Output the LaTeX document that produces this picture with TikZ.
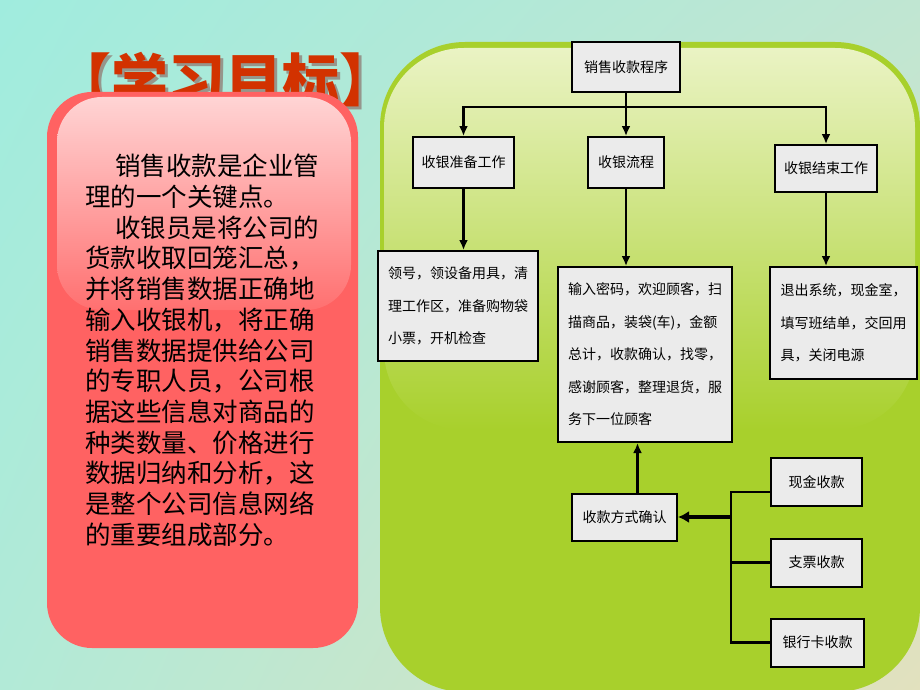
\documentclass[tikz,border=0pt]{standalone}
\usepackage{fontspec}
\setmainfont{Noto Sans CJK SC}
\usetikzlibrary{arrows.meta,positioning,shadows,shadings}

\definecolor{bgUL}{RGB}{160,236,222}
\definecolor{bgUR}{RGB}{192,230,210}
\definecolor{bgLL}{RGB}{178,234,215}
\definecolor{bgLR}{RGB}{226,225,190}
\definecolor{boxred}{RGB}{255,98,98}
\definecolor{glowred}{RGB}{255,212,212}
\definecolor{glowredlow}{RGB}{255,112,112}
\definecolor{titlered}{RGB}{210,50,0}
\definecolor{titleshade}{RGB}{150,150,140}
\definecolor{leafgreen}{RGB}{168,208,44}
\definecolor{glowgreen}{RGB}{234,243,196}
\definecolor{boxgray}{RGB}{235,235,235}

\tikzset{
  flowbox/.style={draw,line width=2pt,fill=boxgray,inner sep=0pt,
    font=\fontsize{14}{16}\selectfont},
  detbox/.style={flowbox,align=left,font=\fontsize{14}{32.5}\selectfont},
  link/.style={line width=2.2pt},
  headline/.style={font=\fontsize{57}{57}\selectfont\bfseries},
}

\begin{document}
\begin{tikzpicture}[x=1pt,y=-1pt,>={Latex[length=10pt,width=9pt]}]
\useasboundingbox (0,0) rectangle (920,690);
\clip (0,0) rectangle (920,690);
% background
\shade[upper left=bgUL,upper right=bgUR,lower left=bgLL,lower right=bgLR]
  (0,0) rectangle (920,690);

% title and left card
\node[headline,text=titleshade] at (228,83) {【学习目标】};
\node[headline,text=titlered] (title) at (225,80) {【学习目标】};
\fill[boxred,rounded corners=45pt] (47,92) rectangle (358,648);
\shade[top color=glowred,bottom color=glowredlow,rounded corners=45pt] (57,97) rectangle (351,310);
\node[anchor=north west,align=left,inner sep=0pt,
      font=\fontsize{25.5}{30.7}\selectfont] (intro) at (85,154)
  {\hspace*{30pt}销售收款是企业管\\
   理的一个关键点。\\
   \hspace*{30pt}收银员是将公司的\\
   货款收取回笼汇总，\\
   并将销售数据正确地\\
   输入收银机，将正确\\
   销售数据提供给公司\\
   的专职人员，公司根\\
   据这些信息对商品的\\
   种类数量、价格进行\\
   数据归纳和分析，这\\
   是整个公司信息网络\\
   的重要组成部分。};

% green panel
\fill[leafgreen,rounded corners=85pt] (380,42) rectangle (920,692);
\shade[top color=glowgreen,bottom color=leafgreen,rounded corners=80pt] (384,48) rectangle (915,430);

% flow chart
\path
(626,67)    node[flowbox,minimum width=108pt,minimum height=50pt] (prog) {销售收款程序}
(463.5,162.5) node[flowbox,minimum width=101pt,minimum height=51pt] (prep) {收银准备工作}
(626,162.5) node[flowbox,minimum width=76pt,minimum height=51pt]  (flow) {收银流程}
(826,168.5) node[flowbox,minimum width=102pt,minimum height=47pt] (endw) {收银结束工作}
(458,306)   node[detbox,minimum width=160pt,minimum height=110pt] (det1)
  {领号，领设备用具，清\\理工作区，准备购物袋\\小票，开机检查}
(645,354.5) node[detbox,minimum width=174pt,minimum height=175pt] (det2)
  {输入密码，欢迎顾客，扫\\描商品，装袋(车)，金额\\总计，收款确认，找零，\\感谢顾客，整理退货，服\\务下一位顾客}
(843.5,323) node[detbox,minimum width=147pt,minimum height=112pt] (det3)
  {退出系统，现金室，\\填写班结单，交回用\\具，关闭电源}
(624.5,517) node[flowbox,minimum width=105pt,minimum height=47pt] (pay) {收款方式确认}
(816.5,482) node[flowbox,minimum width=91pt,minimum height=48pt]  (cash) {现金收款}
(816.5,562.5) node[flowbox,minimum width=91pt,minimum height=48pt] (cheque) {支票收款}
(817.5,642.5) node[flowbox,minimum width=93pt,minimum height=48pt] (card) {银行卡收款};

\coordinate (hub) at (626,107);
\coordinate (bus) at (731,517);
\draw[link,->] (prog.south) -- (flow.north);
\draw[link,->] (hub) -| (prep.north);
\draw[link,->] (hub) -| (endw.north);
\draw[link,->] (prep.south) -- (prep.south |- det1.north);
\draw[link,->] (flow.south) -- (flow.south |- det2.north);
\draw[link,->] (endw.south) -- (endw.south |- det3.north);
\draw[link,->] ([xshift=13pt]pay.north) -- ([xshift=13pt]pay.north |- det2.south);
\draw[link] ([yshift=-10pt]cash.west) -| (bus |- card.west) -- (card.west);
\draw[link] (cheque.west) -- (cheque.west -| bus);
\draw[line width=4pt,-{Latex[length=11pt,width=12pt]}] (bus) -- (pay.east);
\end{tikzpicture}
\end{document}
